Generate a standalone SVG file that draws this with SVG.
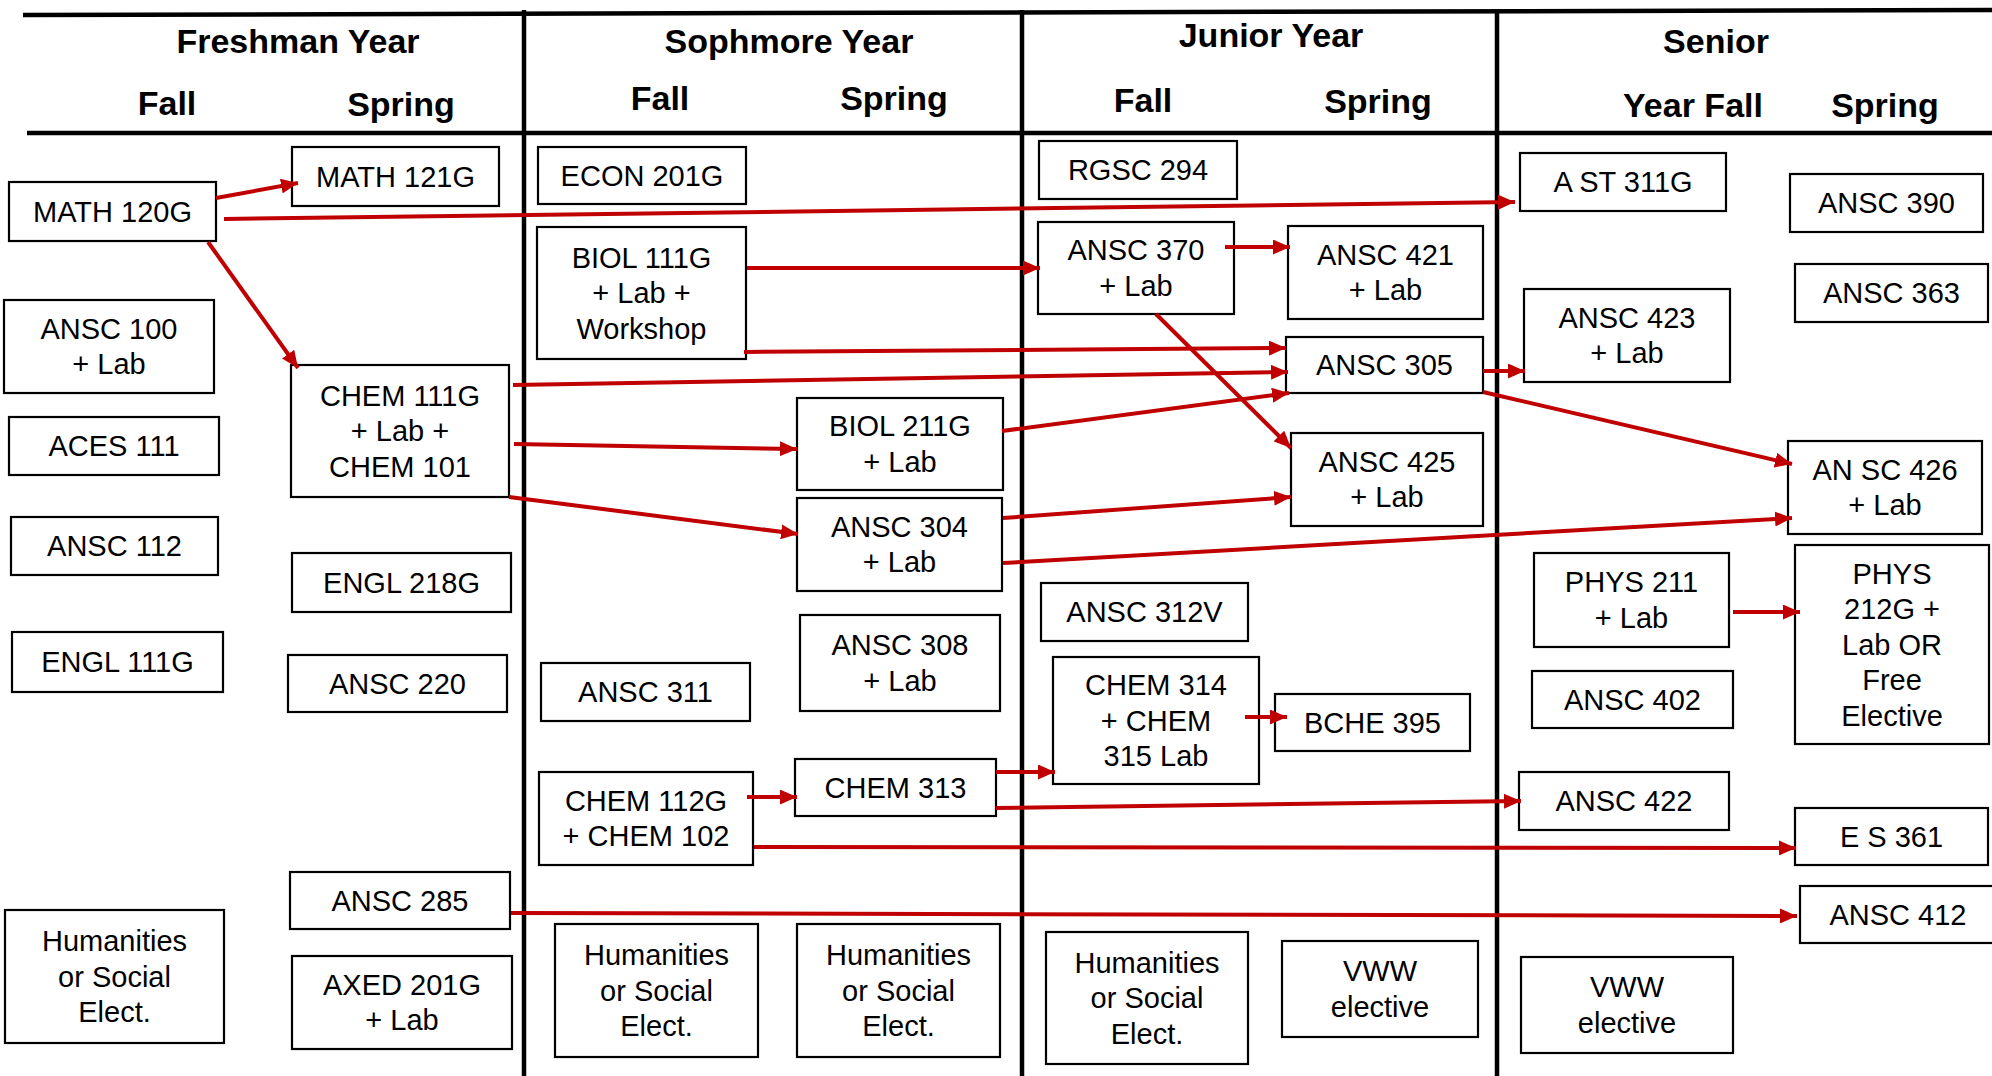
<svg xmlns="http://www.w3.org/2000/svg" width="1992" height="1076" viewBox="0 0 1992 1076">
<style>
.bg{fill:#fff}
.grid{stroke:#000;stroke-width:4.5;fill:none}
.hdr{font-family:"Liberation Sans",Arial,sans-serif;font-weight:bold;font-size:34px;fill:#000;text-anchor:middle}
.box rect{fill:#fff;stroke:#000;stroke-width:2.2}
.box text{font-family:"Liberation Sans",Arial,sans-serif;font-size:29px;fill:#000;text-anchor:middle}
.conn line{stroke:#C00000;stroke-width:4;marker-end:url(#ah)}
</style>
<defs>
<marker id="ah" markerUnits="userSpaceOnUse" markerWidth="17" markerHeight="15" refX="17" refY="7.5" orient="auto" viewBox="0 0 17 15">
<path d="M0,0 L17,7.5 L0,15 z" fill="#C00000"/>
</marker>
</defs>
<rect class="bg" x="0" y="0" width="1992" height="1076"/>
<g id="grid">
<line class="grid" x1="23" y1="15" x2="1992" y2="10"/>
<line class="grid" x1="27" y1="133" x2="1992" y2="133"/>
<line class="grid" x1="524" y1="10" x2="524" y2="1076"/>
<line class="grid" x1="1022" y1="10" x2="1022" y2="1076"/>
<line class="grid" x1="1497" y1="12" x2="1497" y2="1076"/>
</g>
<g id="headers">
<text class="hdr" x="298" y="53">Freshman Year</text>
<text class="hdr" x="167" y="115">Fall</text>
<text class="hdr" x="401" y="116">Spring</text>
<text class="hdr" x="789" y="53">Sophmore Year</text>
<text class="hdr" x="660" y="110">Fall</text>
<text class="hdr" x="894" y="110">Spring</text>
<text class="hdr" x="1271" y="47">Junior Year</text>
<text class="hdr" x="1143" y="112">Fall</text>
<text class="hdr" x="1378" y="113">Spring</text>
<text class="hdr" x="1716" y="53">Senior</text>
<text class="hdr" x="1693" y="117">Year Fall</text>
<text class="hdr" x="1885" y="117">Spring</text>
</g>
<g id="n-math121g" class="box"><rect x="292" y="147" width="207" height="59"/><text x="395.5" y="186.5">MATH 121G</text></g>
<g id="n-math120g" class="box"><rect x="9" y="182" width="207" height="59"/><text x="112.5" y="221.5">MATH 120G</text></g>
<g id="n-ansc100" class="box"><rect x="4" y="300" width="210" height="93"/><text><tspan x="109" y="338.75">ANSC 100</tspan><tspan x="109" y="374.25">+ Lab</tspan></text></g>
<g id="n-aces111" class="box"><rect x="9" y="417" width="210" height="58"/><text x="114" y="456">ACES 111</text></g>
<g id="n-ansc112" class="box"><rect x="11" y="517" width="207" height="58"/><text x="114.5" y="556">ANSC 112</text></g>
<g id="n-engl111g" class="box"><rect x="12" y="632" width="211" height="60"/><text x="117.5" y="672">ENGL 111G</text></g>
<g id="n-hum1" class="box"><rect x="5" y="910" width="219" height="133"/><text><tspan x="114.5" y="951">Humanities</tspan><tspan x="114.5" y="986.5">or Social</tspan><tspan x="114.5" y="1022">Elect.</tspan></text></g>
<g id="n-chem111g" class="box"><rect x="291" y="365" width="218" height="132"/><text><tspan x="400" y="405.5">CHEM 111G</tspan><tspan x="400" y="441">+ Lab +</tspan><tspan x="400" y="476.5">CHEM 101</tspan></text></g>
<g id="n-engl218g" class="box"><rect x="292" y="553" width="219" height="59"/><text x="401.5" y="592.5">ENGL 218G</text></g>
<g id="n-ansc220" class="box"><rect x="288" y="655" width="219" height="57"/><text x="397.5" y="693.5">ANSC 220</text></g>
<g id="n-ansc285" class="box"><rect x="290" y="872" width="220" height="57"/><text x="400" y="910.5">ANSC 285</text></g>
<g id="n-axed201g" class="box"><rect x="292" y="956" width="220" height="93"/><text><tspan x="402" y="994.75">AXED 201G</tspan><tspan x="402" y="1030.25">+ Lab</tspan></text></g>
<g id="n-econ201g" class="box"><rect x="538" y="147" width="208" height="57"/><text x="642" y="185.5">ECON 201G</text></g>
<g id="n-biol111g" class="box"><rect x="537" y="227" width="209" height="132"/><text><tspan x="641.5" y="267.5">BIOL 111G</tspan><tspan x="641.5" y="303">+ Lab +</tspan><tspan x="641.5" y="338.5">Workshop</tspan></text></g>
<g id="n-ansc311" class="box"><rect x="541" y="663" width="209" height="58"/><text x="645.5" y="702">ANSC 311</text></g>
<g id="n-chem112g" class="box"><rect x="539" y="772" width="214" height="93"/><text><tspan x="646" y="810.75">CHEM 112G</tspan><tspan x="646" y="846.25">+ CHEM 102</tspan></text></g>
<g id="n-hum2" class="box"><rect x="555" y="924" width="203" height="133"/><text><tspan x="656.5" y="965">Humanities</tspan><tspan x="656.5" y="1000.5">or Social</tspan><tspan x="656.5" y="1036">Elect.</tspan></text></g>
<g id="n-biol211g" class="box"><rect x="797" y="398" width="206" height="92"/><text><tspan x="900" y="436.25">BIOL 211G</tspan><tspan x="900" y="471.75">+ Lab</tspan></text></g>
<g id="n-ansc304" class="box"><rect x="797" y="498" width="205" height="93"/><text><tspan x="899.5" y="536.75">ANSC 304</tspan><tspan x="899.5" y="572.25">+ Lab</tspan></text></g>
<g id="n-ansc308" class="box"><rect x="800" y="615" width="200" height="96"/><text><tspan x="900" y="655.25">ANSC 308</tspan><tspan x="900" y="690.75">+ Lab</tspan></text></g>
<g id="n-chem313" class="box"><rect x="795" y="759" width="201" height="57"/><text x="895.5" y="797.5">CHEM 313</text></g>
<g id="n-hum3" class="box"><rect x="797" y="924" width="203" height="133"/><text><tspan x="898.5" y="965">Humanities</tspan><tspan x="898.5" y="1000.5">or Social</tspan><tspan x="898.5" y="1036">Elect.</tspan></text></g>
<g id="n-rgsc294" class="box"><rect x="1039" y="141" width="198" height="58"/><text x="1138" y="180">RGSC 294</text></g>
<g id="n-ansc370" class="box"><rect x="1038" y="222" width="196" height="92"/><text><tspan x="1136" y="260.25">ANSC 370</tspan><tspan x="1136" y="295.75">+ Lab</tspan></text></g>
<g id="n-ansc312v" class="box"><rect x="1041" y="583" width="207" height="58"/><text x="1144.5" y="622">ANSC 312V</text></g>
<g id="n-chem314" class="box"><rect x="1053" y="657" width="206" height="127"/><text><tspan x="1156" y="695">CHEM 314</tspan><tspan x="1156" y="730.5">+ CHEM</tspan><tspan x="1156" y="766">315 Lab</tspan></text></g>
<g id="n-hum4" class="box"><rect x="1046" y="932" width="202" height="132"/><text><tspan x="1147" y="972.5">Humanities</tspan><tspan x="1147" y="1008">or Social</tspan><tspan x="1147" y="1043.5">Elect.</tspan></text></g>
<g id="n-ansc421" class="box"><rect x="1288" y="226" width="195" height="93"/><text><tspan x="1385.5" y="264.75">ANSC 421</tspan><tspan x="1385.5" y="300.25">+ Lab</tspan></text></g>
<g id="n-ansc305" class="box"><rect x="1286" y="337" width="197" height="56"/><text x="1384.5" y="375">ANSC 305</text></g>
<g id="n-ansc425" class="box"><rect x="1291" y="433" width="192" height="93"/><text><tspan x="1387" y="471.75">ANSC 425</tspan><tspan x="1387" y="507.25">+ Lab</tspan></text></g>
<g id="n-bche395" class="box"><rect x="1275" y="694" width="195" height="57"/><text x="1372.5" y="732.5">BCHE 395</text></g>
<g id="n-vww1" class="box"><rect x="1282" y="941" width="196" height="96"/><text><tspan x="1380" y="981.25">VWW</tspan><tspan x="1380" y="1016.75">elective</tspan></text></g>
<g id="n-ast311g" class="box"><rect x="1520" y="153" width="206" height="58"/><text x="1623" y="192">A ST 311G</text></g>
<g id="n-ansc423" class="box"><rect x="1524" y="289" width="206" height="93"/><text><tspan x="1627" y="327.75">ANSC 423</tspan><tspan x="1627" y="363.25">+ Lab</tspan></text></g>
<g id="n-phys211" class="box"><rect x="1534" y="553" width="195" height="94"/><text><tspan x="1631.5" y="592.25">PHYS 211</tspan><tspan x="1631.5" y="627.75">+ Lab</tspan></text></g>
<g id="n-ansc402" class="box"><rect x="1532" y="671" width="201" height="57"/><text x="1632.5" y="709.5">ANSC 402</text></g>
<g id="n-ansc422" class="box"><rect x="1519" y="772" width="210" height="58"/><text x="1624" y="811">ANSC 422</text></g>
<g id="n-vww2" class="box"><rect x="1521" y="957" width="212" height="96"/><text><tspan x="1627" y="997.25">VWW</tspan><tspan x="1627" y="1032.75">elective</tspan></text></g>
<g id="n-ansc390" class="box"><rect x="1790" y="174" width="193" height="58"/><text x="1886.5" y="213">ANSC 390</text></g>
<g id="n-ansc363" class="box"><rect x="1795" y="264" width="193" height="58"/><text x="1891.5" y="303">ANSC 363</text></g>
<g id="n-ansc426" class="box"><rect x="1788" y="441" width="194" height="93"/><text><tspan x="1885" y="479.75">AN SC 426</tspan><tspan x="1885" y="515.25">+ Lab</tspan></text></g>
<g id="n-phys212g" class="box"><rect x="1795" y="545" width="194" height="199"/><text><tspan x="1892" y="583.5">PHYS</tspan><tspan x="1892" y="619">212G +</tspan><tspan x="1892" y="654.5">Lab OR</tspan><tspan x="1892" y="690">Free</tspan><tspan x="1892" y="725.5">Elective</tspan></text></g>
<g id="n-es361" class="box"><rect x="1795" y="808" width="193" height="57"/><text x="1891.5" y="846.5">E S 361</text></g>
<g id="n-ansc412" class="box"><rect x="1800" y="886" width="196" height="57"/><text x="1898" y="924.5">ANSC 412</text></g>
<g id="connectors" class="conn">
<line x1="216" y1="198" x2="298" y2="183"/>
<line x1="224" y1="219" x2="1515" y2="202"/>
<line x1="208" y1="242" x2="298" y2="368"/>
<line x1="747" y1="268" x2="1040" y2="268"/>
<line x1="744" y1="352" x2="1286" y2="348"/>
<line x1="513" y1="385" x2="1288" y2="372"/>
<line x1="514" y1="444" x2="797" y2="449"/>
<line x1="509" y1="497" x2="798" y2="534"/>
<line x1="1225" y1="247" x2="1290" y2="247"/>
<line x1="1156" y1="314" x2="1291" y2="448"/>
<line x1="1002" y1="431" x2="1289" y2="393"/>
<line x1="1003" y1="518" x2="1291" y2="497"/>
<line x1="1003" y1="563" x2="1792" y2="518"/>
<line x1="1483" y1="371" x2="1525" y2="371"/>
<line x1="1483" y1="392" x2="1792" y2="464"/>
<line x1="1733" y1="612" x2="1800" y2="612"/>
<line x1="1245" y1="717" x2="1287" y2="717"/>
<line x1="996" y1="772" x2="1055" y2="772"/>
<line x1="747" y1="797" x2="797" y2="797"/>
<line x1="996" y1="808" x2="1521" y2="801"/>
<line x1="754" y1="847" x2="1796" y2="848"/>
<line x1="511" y1="913" x2="1797" y2="916"/>
</g>
</svg>
